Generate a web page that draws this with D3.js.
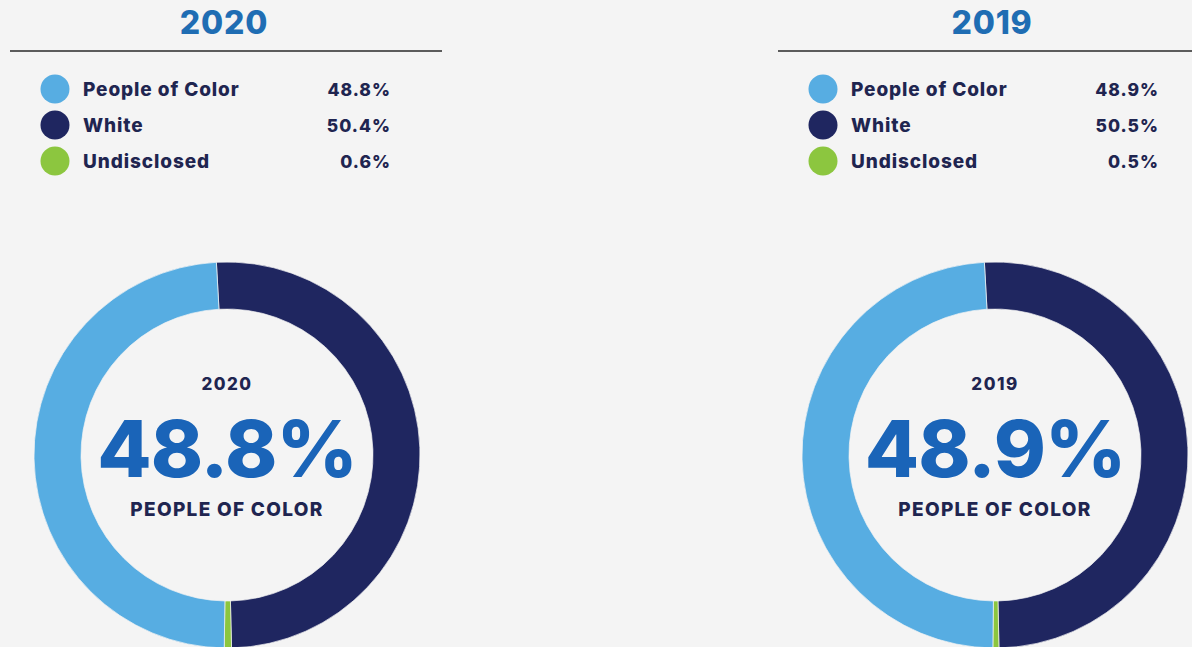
<!DOCTYPE html>
<html>
<head>
<meta charset="utf-8">
<script src="https://cdn.jsdelivr.net/npm/d3@7"></script>
<style>
  html, body { margin: 0; padding: 0; background: #f4f4f4; }
  svg { display: block; font-family: Inter, "Open Sans", sans-serif; }
</style>
</head>
<body>
<svg id="chart" width="1192" height="647"></svg>
<script>
// Workforce composition by year
const years = ["2020", "2019"];
const categories = ["People of Color", "White", "Undisclosed"];
const shares2020 = [48.8, 50.4, 0.6];
const shares2019 = [48.9, 50.5, 0.5];
const headline = "PEOPLE OF COLOR";

const colors = ["#57ade2", "#1f2660", "#8cc63f"];
// Ring is drawn clockwise from the top: White, Undisclosed, People of Color
const ringOrder = [1, 2, 0];

const panels = [
  { year: years[0], values: shares2020, cx: 227 },
  { year: years[1], values: shares2019, cx: 995 }
];

const svg = d3.select("#chart");
const fmt = v => d3.format(".1f")(v) + "%";
const color = d3.scaleOrdinal().domain(categories).range(colors);

const outerR = 193, innerR = 146, cy = 455;
const rotate = -0.055;

const pie = d3.pie()
  .sort(null)
  .value(d => d.value)
  .startAngle(rotate)
  .endAngle(2 * Math.PI + rotate);

const arc = d3.arc().innerRadius(innerR).outerRadius(outerR);

panels.forEach(p => {
  const g = svg.append("g").attr("transform", `translate(${p.cx},0)`);

  // Title and rule
  g.append("text")
    .attr("x", -3).attr("y", 34)
    .attr("text-anchor", "middle")
    .attr("font-size", 32).attr("font-weight", 800)
    .attr("letter-spacing", 0.8)
    .attr("fill", "#1f6db3")
    .text(p.year);

  g.append("line")
    .attr("x1", -217).attr("x2", 215)
    .attr("y1", 51).attr("y2", 51)
    .attr("stroke", "#2a2a2a").attr("stroke-width", 1.5);

  // Legend
  const rowY = d3.scalePoint().domain(categories).range([89, 161]);
  const leg = g.selectAll("g.leg").data(categories).join("g")
    .attr("class", "leg")
    .attr("transform", c => `translate(0,${rowY(c)})`);

  leg.append("circle")
    .attr("cx", -172).attr("cy", 0).attr("r", 14.5)
    .attr("fill", c => color(c));

  leg.append("text")
    .attr("x", -144).attr("y", 6.5)
    .attr("font-size", 19).attr("font-weight", 800)
    .attr("letter-spacing", 0.9)
    .attr("fill", "#1f2550")
    .text(c => c);

  leg.append("text")
    .attr("x", 164).attr("y", 6.5)
    .attr("text-anchor", "end")
    .attr("font-size", 17.5).attr("font-weight", 800)
    .attr("letter-spacing", 1)
    .attr("fill", "#1f2550")
    .text((c, i) => fmt(p.values[i]));

  // Donut
  const ringData = ringOrder.map(i => ({ key: categories[i], value: p.values[i] }));
  const ring = g.append("g").attr("transform", `translate(0,${cy})`);
  ring.selectAll("path").data(pie(ringData)).join("path")
    .attr("d", arc)
    .attr("fill", d => color(d.data.key))
    .attr("stroke", "#f4f4f4")
    .attr("stroke-width", 0.7);

  // Centre labels
  ring.append("text")
    .attr("x", 0).attr("y", -65)
    .attr("text-anchor", "middle")
    .attr("font-size", 17).attr("font-weight", 800)
    .attr("letter-spacing", 1.5)
    .attr("fill", "#1f2550")
    .text(p.year);

  ring.append("text")
    .attr("x", 0).attr("y", 22)
    .attr("text-anchor", "middle")
    .attr("font-size", 79).attr("font-weight", 800)
    .attr("letter-spacing", -1)
    .attr("fill", "#1a64b8")
    .text(fmt(p.values[0]));

  ring.append("text")
    .attr("x", 0).attr("y", 61)
    .attr("text-anchor", "middle")
    .attr("font-size", 19).attr("font-weight", 800)
    .attr("letter-spacing", 1.3)
    .attr("fill", "#1f2550")
    .text(headline);
});
</script>
</body>
</html>
